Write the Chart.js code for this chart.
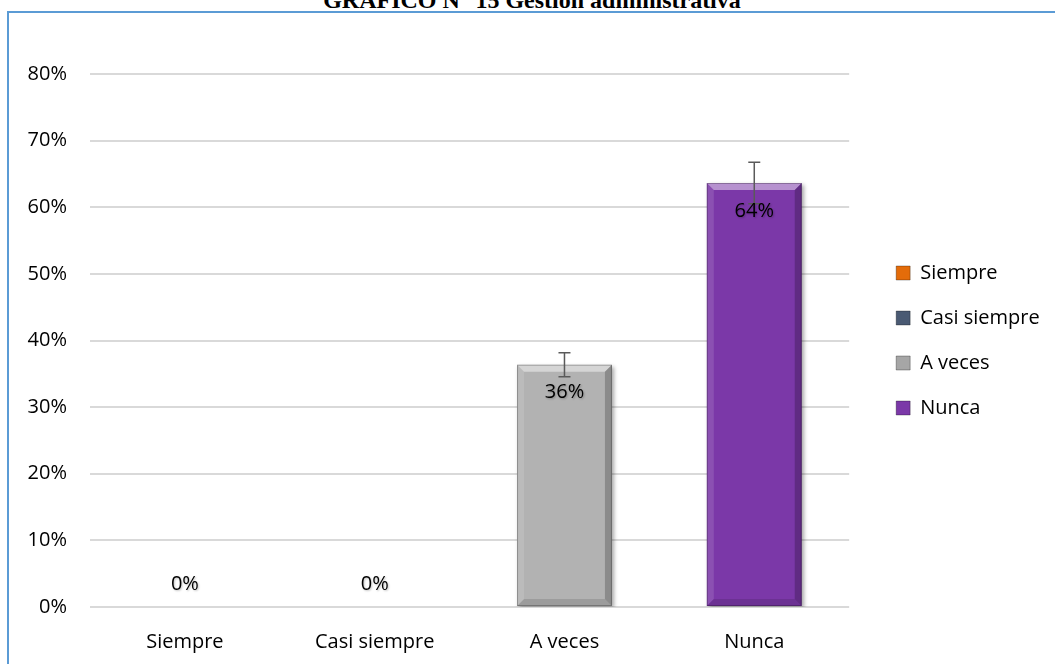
<!DOCTYPE html>
<html lang="es">
<head>
<meta charset="UTF-8">
<title>GRÁFICO N° 15 Gestión administrativa</title>
<script src="https://cdn.jsdelivr.net/npm/chart.js"></script>
<style>
  html, body { margin: 0; padding: 0; background: #fff; overflow: hidden; }
  body { width: 1055px; height: 664px; position: relative; }
  #titulo { position: absolute; left: 0; width: 1064px; top: -12px; text-align: center;
            font: bold 24px "Liberation Serif", "Times New Roman", serif; line-height: 24px;
            color: #000; white-space: nowrap; }
  #marco { position: absolute; left: 7px; top: 11px; width: 1100px; height: 700px;
           border: 2px solid #5B9BD5; box-sizing: border-box; }
  #grafico { position: absolute; left: 0; top: 0; }
</style>
</head>
<body>
<div id="titulo">GRÁFICO N° 15 Gestión administrativa</div>
<div id="marco"></div>
<canvas id="grafico" width="1055" height="664"></canvas>

<script>
    // datos
    const categorias = ['Siempre', 'Casi siempre', 'A veces', 'Nunca'];
    const porcentajes = [0, 0, 36.36, 63.64];
    const errores = [0, 0, 1.8, 3.1];
    const coloresBarras = ['#E46C0A', '#4A5A73', '#B2B2B2', '#7B38A8'];
    const coloresLeyenda = ['#E46C0A', '#4A5A73', '#A6A6A6', '#7B38A8'];
    const ejeY = { min: 0, max: 80, paso: 10 };

    const fuente = 'Open Sans';

    function poligono(ctx, pts, color) {
        ctx.beginPath();
        ctx.moveTo(pts[0][0], pts[0][1]);
        for (let i = 1; i < pts.length; i++) ctx.lineTo(pts[i][0], pts[i][1]);
        ctx.closePath();
        ctx.fillStyle = color;
        ctx.fill();
    }

    // sombra, bisel, barras de error y etiquetas
    const adornos = {
        id: 'adornos',
        beforeDatasetsDraw(chart) {
            const ctx = chart.ctx;
            ctx.save();
            ctx.shadowColor = 'rgba(0,0,0,0.35)';
            ctx.shadowBlur = 4;
            ctx.shadowOffsetX = 2;
            ctx.shadowOffsetY = 2;
        },
        afterDatasetsDraw(chart) {
            const ctx = chart.ctx;
            ctx.restore();
            const y = chart.scales.y;
            const barras = chart.getDatasetMeta(0).data;

            barras.forEach((bar, i) => {
                const p = bar.getProps(['x', 'y', 'base', 'width'], true);
                const h = p.base - p.y;
                if (h < 1) return;
                const l = p.x - p.width / 2, r = p.x + p.width / 2, t = p.y, b = p.base;
                const d = Math.min(7, h / 2);
                poligono(ctx, [[l, t], [r, t], [r - d, t + d], [l + d, t + d]], 'rgba(255,255,255,0.45)');
                poligono(ctx, [[l, t], [l + d, t + d], [l + d, b - d], [l, b]], 'rgba(255,255,255,0.12)');
                poligono(ctx, [[r, t], [r, b], [r - d, b - d], [r - d, t + d]], 'rgba(0,0,0,0.22)');
                poligono(ctx, [[l, b], [l + d, b - d], [r - d, b - d], [r, b]], 'rgba(0,0,0,0.12)');
                ctx.strokeStyle = 'rgba(0,0,0,0.25)';
                ctx.lineWidth = 1;
                ctx.strokeRect(l + 0.5, t + 0.5, p.width - 1, h - 1);
            });

            ctx.save();
            ctx.strokeStyle = '#5A5A5A';
            ctx.lineWidth = 1.5;
            barras.forEach((bar, i) => {
                if (!errores[i]) return;
                const x = bar.x;
                const arriba = y.getPixelForValue(porcentajes[i] + errores[i]);
                const abajo = y.getPixelForValue(porcentajes[i] - errores[i]);
                ctx.beginPath();
                ctx.moveTo(x, arriba); ctx.lineTo(x, abajo);
                ctx.moveTo(x - 6, arriba); ctx.lineTo(x + 6, arriba);
                ctx.moveTo(x - 6, abajo); ctx.lineTo(x + 6, abajo);
                ctx.stroke();
            });
            ctx.restore();

            ctx.save();
            ctx.font = '20px "' + fuente + '"';
            ctx.textAlign = 'center';
            ctx.textBaseline = 'middle';
            ctx.fillStyle = '#000';
            ctx.shadowColor = 'rgba(0,0,0,0.25)';
            ctx.shadowBlur = 2;
            ctx.shadowOffsetX = 1;
            ctx.shadowOffsetY = 1;
            barras.forEach((bar, i) => {
                const v = porcentajes[i];
                const yy = v > 0 ? bar.y + 28 : bar.base - 23;
                ctx.fillText(Math.round(v) + '%', bar.x, yy);
            });
            ctx.restore();
        }
    };

    new Chart(document.getElementById('grafico').getContext('2d'), {
        type: 'bar',
        data: {
            labels: categorias,
            datasets: [{
                data: porcentajes,
                backgroundColor: coloresBarras,
                borderWidth: 0,
                barPercentage: 0.5,
                categoryPercentage: 1.0
            }]
        },
        options: {
            responsive: false,
            animation: false,
            layout: { padding: { left: 27, top: 74, right: 15, bottom: 10 } },
            plugins: {
                tooltip: { enabled: false },
                legend: {
                    position: 'right',
                    fullSize: false,
                    onClick: null,
                    labels: {
                        boxWidth: 14,
                        boxHeight: 14,
                        padding: 25,
                        color: '#000',
                        font: { family: fuente, size: 20 },
                        generateLabels: () => categorias.map((c, i) => ({
                            text: c,
                            fillStyle: coloresLeyenda[i],
                            strokeStyle: 'rgba(0,0,0,0.3)',
                            lineWidth: 1,
                            hidden: false,
                            index: i
                        }))
                    }
                }
            },
            scales: {
                x: {
                    grid: { display: false, drawTicks: false },
                    border: { display: false },
                    ticks: { color: '#000', padding: 23, font: { family: fuente, size: 20 } },
                    afterFit: s => { s.height = 47; }
                },
                y: {
                    min: ejeY.min,
                    max: ejeY.max,
                    grid: { color: '#D9D9D9', lineWidth: 2, drawTicks: false },
                    border: { display: false },
                    ticks: {
                        stepSize: ejeY.paso,
                        padding: 23,
                        color: '#000',
                        font: { family: fuente, size: 20 },
                        callback: v => v + '%'
                    },
                    afterFit: s => { s.width = 63; }
                },
                hueco: {
                    type: 'linear',
                    position: 'right',
                    grid: { display: false },
                    border: { display: false },
                    ticks: { display: false },
                    afterFit: s => { s.width = 22; }
                }
            }
        },
        plugins: [adornos]
    });
</script>
</body>
</html>
